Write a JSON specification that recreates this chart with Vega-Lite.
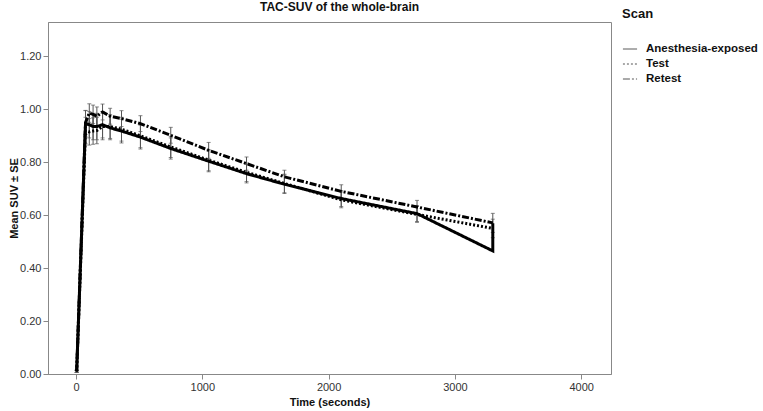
{
  "$schema": "https://vega.github.io/schema/vega-lite/v6.json",
  "autosize": "none",
  "width": 563,
  "height": 352,
  "padding": {"left": 48, "top": 22, "right": 152, "bottom": 37},
  "background": "white",
  "config": {
    "font": "Liberation Sans",
    "view": {"stroke": "#888", "strokeWidth": 1},
    "axis": {"grid": false, "domainColor": "#888", "tickColor": "#888", "labelColor": "#333", "labelFontSize": 11, "titleFontSize": 11, "titleFontWeight": "bold", "titleColor": "#111", "tickSize": 5, "labelPadding": 2}
  },
  "title": {"text": "TAC-SUV of the whole-brain", "fontSize": 12, "fontWeight": "bold", "color": "#111", "offset": 8, "dx": 10, "dy": 14},
  "data": {"values": [
    {"scan": "Anesthesia-exposed", "t": 5, "suv": 0.01, "se": 0.004, "ord": 1},
    {"scan": "Anesthesia-exposed", "t": 75, "suv": 0.946, "se": 0.05, "ord": 2},
    {"scan": "Anesthesia-exposed", "t": 105, "suv": 0.942, "se": 0.05, "ord": 3},
    {"scan": "Anesthesia-exposed", "t": 135, "suv": 0.935, "se": 0.05, "ord": 4},
    {"scan": "Anesthesia-exposed", "t": 165, "suv": 0.935, "se": 0.05, "ord": 5},
    {"scan": "Anesthesia-exposed", "t": 210, "suv": 0.942, "se": 0.05, "ord": 6},
    {"scan": "Anesthesia-exposed", "t": 270, "suv": 0.93, "se": 0.045, "ord": 7},
    {"scan": "Anesthesia-exposed", "t": 360, "suv": 0.918, "se": 0.045, "ord": 8},
    {"scan": "Anesthesia-exposed", "t": 510, "suv": 0.895, "se": 0.045, "ord": 9},
    {"scan": "Anesthesia-exposed", "t": 750, "suv": 0.852, "se": 0.04, "ord": 10},
    {"scan": "Anesthesia-exposed", "t": 1050, "suv": 0.804, "se": 0.04, "ord": 11},
    {"scan": "Anesthesia-exposed", "t": 1350, "suv": 0.757, "se": 0.035, "ord": 12},
    {"scan": "Anesthesia-exposed", "t": 1650, "suv": 0.717, "se": 0.035, "ord": 13},
    {"scan": "Anesthesia-exposed", "t": 2100, "suv": 0.663, "se": 0.03, "ord": 14},
    {"scan": "Anesthesia-exposed", "t": 2700, "suv": 0.606, "se": 0.03, "ord": 15},
    {"scan": "Anesthesia-exposed", "t": 3300, "suv": 0.465, "se": 0.0, "ord": 16},
    {"scan": "Anesthesia-exposed", "t": 3300, "suv": 0.57, "se": 0.0, "ord": 17},
    {"scan": "Test", "t": 5, "suv": 0.01, "se": 0.004, "ord": 1},
    {"scan": "Test", "t": 75, "suv": 0.92, "se": 0.05, "ord": 2},
    {"scan": "Test", "t": 105, "suv": 0.915, "se": 0.05, "ord": 3},
    {"scan": "Test", "t": 135, "suv": 0.918, "se": 0.05, "ord": 4},
    {"scan": "Test", "t": 165, "suv": 0.92, "se": 0.05, "ord": 5},
    {"scan": "Test", "t": 210, "suv": 0.935, "se": 0.05, "ord": 6},
    {"scan": "Test", "t": 270, "suv": 0.935, "se": 0.045, "ord": 7},
    {"scan": "Test", "t": 360, "suv": 0.925, "se": 0.045, "ord": 8},
    {"scan": "Test", "t": 510, "suv": 0.9, "se": 0.045, "ord": 9},
    {"scan": "Test", "t": 750, "suv": 0.858, "se": 0.04, "ord": 10},
    {"scan": "Test", "t": 1050, "suv": 0.808, "se": 0.04, "ord": 11},
    {"scan": "Test", "t": 1350, "suv": 0.762, "se": 0.035, "ord": 12},
    {"scan": "Test", "t": 1650, "suv": 0.72, "se": 0.035, "ord": 13},
    {"scan": "Test", "t": 2100, "suv": 0.658, "se": 0.03, "ord": 14},
    {"scan": "Test", "t": 2700, "suv": 0.603, "se": 0.03, "ord": 15},
    {"scan": "Test", "t": 3300, "suv": 0.55, "se": 0.035, "ord": 16},
    {"scan": "Retest", "t": 5, "suv": 0.01, "se": 0.004, "ord": 1},
    {"scan": "Retest", "t": 75, "suv": 0.95, "se": 0.045, "ord": 2},
    {"scan": "Retest", "t": 105, "suv": 0.986, "se": 0.035, "ord": 3},
    {"scan": "Retest", "t": 135, "suv": 0.981, "se": 0.035, "ord": 4},
    {"scan": "Retest", "t": 165, "suv": 0.974, "se": 0.035, "ord": 5},
    {"scan": "Retest", "t": 210, "suv": 0.99, "se": 0.03, "ord": 6},
    {"scan": "Retest", "t": 270, "suv": 0.974, "se": 0.03, "ord": 7},
    {"scan": "Retest", "t": 360, "suv": 0.965, "se": 0.03, "ord": 8},
    {"scan": "Retest", "t": 510, "suv": 0.946, "se": 0.03, "ord": 9},
    {"scan": "Retest", "t": 750, "suv": 0.902, "se": 0.03, "ord": 10},
    {"scan": "Retest", "t": 1050, "suv": 0.845, "se": 0.03, "ord": 11},
    {"scan": "Retest", "t": 1350, "suv": 0.795, "se": 0.025, "ord": 12},
    {"scan": "Retest", "t": 1650, "suv": 0.745, "se": 0.025, "ord": 13},
    {"scan": "Retest", "t": 2100, "suv": 0.69, "se": 0.025, "ord": 14},
    {"scan": "Retest", "t": 2700, "suv": 0.631, "se": 0.025, "ord": 15},
    {"scan": "Retest", "t": 3300, "suv": 0.571, "se": 0.036, "ord": 16}
  ]},
  "layer": [
    {
      "transform": [{"filter": "datum.se > 0"}],
      "mark": {"type": "errorbar", "ticks": {"size": 4}, "color": "#555", "thickness": 1},
      "encoding": {
        "x": {"field": "t", "type": "quantitative", "title": "Time (seconds)"},
        "y": {"field": "suv", "type": "quantitative", "title": "Mean SUV  ± SE"},
        "yError": {"field": "se"},
        "detail": {"field": "scan"}
      }
    },
    {
      "mark": {"type": "line", "color": "black", "strokeWidth": 3},
      "encoding": {
        "x": {"field": "t", "type": "quantitative", "title": "Time (seconds)",
              "scale": {"domain": [-222, 4236], "nice": false, "zero": false},
              "axis": {"values": [0, 1000, 2000, 3000, 4000], "format": "d", "titlePadding": 4}},
        "y": {"field": "suv", "type": "quantitative", "title": "Mean SUV  ± SE",
              "scale": {"domain": [0, 1.33], "nice": false},
              "axis": {"values": [0, 0.2, 0.4, 0.6, 0.8, 1.0, 1.2], "format": ".2f", "titlePadding": 0}},
        "order": {"field": "ord", "type": "quantitative"},
        "strokeDash": {"field": "scan", "type": "nominal", "title": "Scan",
          "scale": {"domain": ["Anesthesia-exposed", "Test", "Retest"], "range": [[1, 0], [2, 2], [7, 2, 2, 2]]},
          "legend": {"orient": "none", "legendX": 574, "legendY": -14, "symbolType": "stroke", "symbolStrokeWidth": 1, "symbolStrokeColor": "#555", "symbolSize": 200, "titleFontSize": 13, "titleFontWeight": "bold", "titleColor": "#111", "labelFontSize": 11.5, "labelFontWeight": "bold", "labelColor": "#111", "labelOffset": 8, "titlePadding": 20, "rowPadding": 1}
        }
      }
    }
  ]
}
